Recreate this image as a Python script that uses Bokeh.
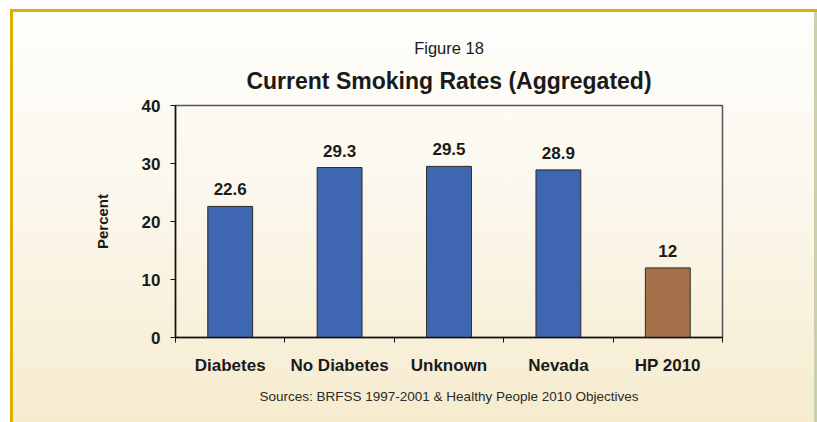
from bokeh.plotting import figure
from bokeh.models import Title, FixedTicker, ColumnDataSource, Range1d
from bokeh.embed import file_html
from bokeh.resources import INLINE
from bokeh.core.properties import value

# ---- data ----
categories = ["Diabetes", "No Diabetes", "Unknown", "Nevada", "HP 2010"]
rates = [22.6, 29.3, 29.5, 28.9, 12]
rate_labels = ["22.6", "29.3", "29.5", "28.9", "12"]
bar_colors = ["#3f66b1", "#3f66b1", "#3f66b1", "#3f66b1", "#a4714a"]
y_ticks = [0, 10, 20, 30, 40]

figure_label = "Figure 18"
chart_title = "Current Smoking Rates (Aggregated)"
source_note = "Sources: BRFSS 1997-2001 & Healthy People 2010 Objectives"
y_label = "Percent"

# ---- derived ----
positions = [i + 0.5 for i in range(len(categories))]
boundaries = list(range(len(categories) + 1))

src = ColumnDataSource(dict(x=positions, top=rates, label=rate_labels,
                            color=bar_colors))

FONT = "Liberation Sans"
TXT = "#1a1a1a"

p = figure(width=817, height=422, title=None,
           x_range=Range1d(0, len(categories)), y_range=Range1d(0, 40),
           output_backend="svg", toolbar_location=None,
           min_border_left=175, min_border_right=95,
           min_border_top=105, min_border_bottom=85)

p.border_fill_alpha = 0
p.background_fill_alpha = 0
p.outline_line_color = "#555555"
p.outline_line_width = 1.5
p.xgrid.visible = False
p.ygrid.visible = False

p.styles = {
    "background": (
        "linear-gradient(#dcb000,#dcb000) 10px 9px / 100% 3px no-repeat, "
        "linear-gradient(#dcb000,#dcb000) 10px 9px / 3px 100% no-repeat, "
        "linear-gradient(#c9d1aa,#c9d1aa) right 0px top 12px / 3px 100% no-repeat, "
        "linear-gradient(to bottom, #fefefc 0%, #fbf7ec 45%, #f6ebcd 100%) 10px 9px / 100% 100% no-repeat, "
        "#ffffff"
    )
}

p.vbar(x="x", top="top", bottom=0, width=0.41, fill_color="color",
       line_color="#2a2a2a", line_width=1, source=src)

p.text(x="x", y="top", text="label", source=src,
       text_font=value(FONT), text_font_style="bold", text_font_size="17px",
       text_align="center", text_baseline="alphabetic", y_offset=-17,
       text_color=TXT)

# x axis: labels at category centres, tick marks at category boundaries
xa = p.xaxis[0]
xa.ticker = FixedTicker(ticks=positions, minor_ticks=boundaries)
xa.major_label_overrides = {pos: cat for pos, cat in zip(positions, categories)}
xa.major_tick_out = 0
xa.major_tick_in = 0
xa.minor_tick_out = 5
xa.minor_tick_in = 0
xa.minor_tick_line_color = "#111111"
xa.axis_line_color = "#111111"
xa.axis_line_width = 1.5
xa.major_label_text_font = FONT
xa.major_label_text_font_style = "bold"
xa.major_label_text_font_size = "17px"
xa.major_label_text_color = TXT
xa.major_label_standoff = 13

ya = p.yaxis[0]
ya.ticker = FixedTicker(ticks=y_ticks, minor_ticks=[])
ya.major_tick_out = 5
ya.major_tick_in = 0
ya.major_tick_line_color = "#111111"
ya.axis_line_color = "#111111"
ya.axis_line_width = 1.5
ya.major_label_text_font = FONT
ya.major_label_text_font_style = "bold"
ya.major_label_text_font_size = "17px"
ya.major_label_text_color = TXT
ya.major_label_standoff = 10
ya.axis_label = y_label
ya.axis_label_text_font = FONT
ya.axis_label_text_font_style = "bold"
ya.axis_label_text_font_size = "15px"
ya.axis_label_text_color = TXT
ya.axis_label_standoff = 28

p.add_layout(Title(text=chart_title, align="center", text_font=FONT,
                   text_font_style="bold", text_font_size="23px",
                   text_color=TXT, standoff=23), "above")
p.add_layout(Title(text=figure_label, align="center", text_font=FONT,
                   text_font_style="normal", text_font_size="16.5px",
                   text_color=TXT, standoff=-5), "above")
p.add_layout(Title(text=source_note, align="center", text_font=FONT,
                   text_font_style="normal", text_font_size="13.5px",
                   text_color="#2a2a2a", standoff=19), "below")

open("out.html", "w").write(file_html(p, INLINE))
